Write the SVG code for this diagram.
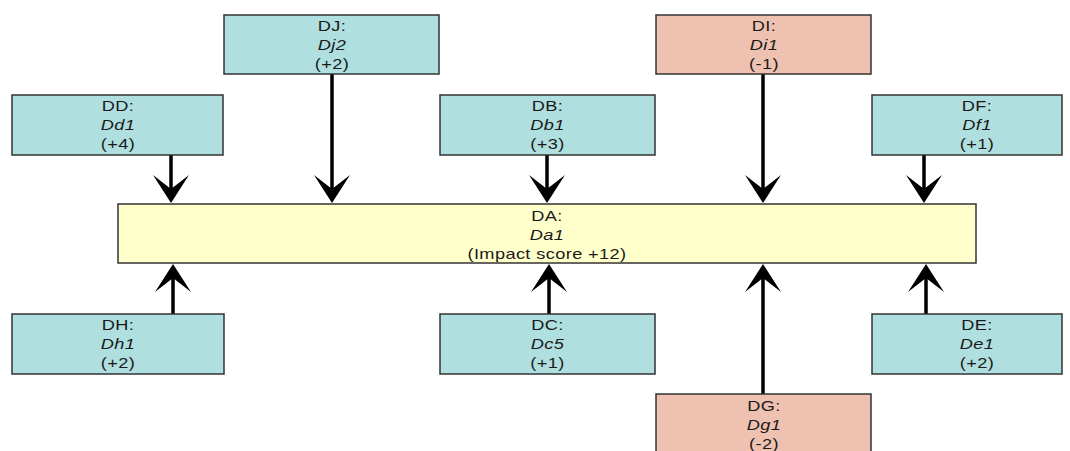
<svg xmlns="http://www.w3.org/2000/svg" width="1070" height="451" viewBox="0 0 1070 451">
<defs>
<style>
.box{stroke:#333;stroke-width:1.5}
.teal{fill:#b0dfdf}
.red{fill:#efc1b1}
.yel{fill:#ffffcc}
text{font-family:"Liberation Sans",Arial,sans-serif;font-size:14px;fill:#1a1a1a;text-anchor:middle;letter-spacing:0.3px}
.it{font-style:italic}
.conn line{stroke:#000;stroke-width:3.5;marker-end:url(#ah)}
</style>
<marker id="ah" viewBox="-20 -20 32 40" markerWidth="32" markerHeight="40" refX="0" refY="0" markerUnits="userSpaceOnUse" orient="auto">
<path d="M10,0 L-18,-18 L-4,0 L-18,18 Z" fill="#000"/>
</marker>
</defs>
<rect width="1070" height="451" fill="#fff"/>

<g class="conn" id="connectors">
<line x1="171" y1="155" x2="171" y2="193"/>
<line x1="332" y1="74" x2="332" y2="193"/>
<line x1="547" y1="155" x2="547" y2="193"/>
<line x1="763" y1="74" x2="763" y2="193"/>
<line x1="924" y1="155" x2="924" y2="193"/>
<line x1="173" y1="314" x2="173" y2="274"/>
<line x1="549" y1="314" x2="549" y2="274"/>
<line x1="763" y1="394" x2="763" y2="274"/>
<line x1="926" y1="314" x2="926" y2="274"/>
</g>

<g id="DJ"><rect class="box teal" x="224" y="15" width="215" height="59"/>
<g transform="translate(332,0) scale(1.3,1)"><text y="31">DJ:</text><text class="it" y="50">Dj2</text><text y="69">(+2)</text></g></g>

<g id="DI"><rect class="box red" x="656" y="15" width="215" height="59"/>
<g transform="translate(764,0) scale(1.3,1)"><text y="31">DI:</text><text class="it" y="50">Di1</text><text y="69">(-1)</text></g></g>

<g id="DD"><rect class="box teal" x="12" y="95" width="211" height="60"/>
<g transform="translate(118,0) scale(1.3,1)"><text y="111">DD:</text><text class="it" y="130">Dd1</text><text y="149">(+4)</text></g></g>

<g id="DB"><rect class="box teal" x="440" y="95" width="215" height="60"/>
<g transform="translate(547.5,0) scale(1.3,1)"><text y="111">DB:</text><text class="it" y="130">Db1</text><text y="149">(+3)</text></g></g>

<g id="DF"><rect class="box teal" x="872" y="95" width="190" height="60"/>
<g transform="translate(977,0) scale(1.3,1)"><text y="111">DF:</text><text class="it" y="130">Df1</text><text y="149">(+1)</text></g></g>

<g id="DA"><rect class="box yel" x="118" y="204" width="858" height="59"/>
<g transform="translate(547,0) scale(1.3,1)"><text y="221">DA:</text><text class="it" y="240">Da1</text><text y="259">(Impact score +12)</text></g></g>

<g id="DH"><rect class="box teal" x="12" y="314" width="212" height="60"/>
<g transform="translate(118,0) scale(1.3,1)"><text y="330">DH:</text><text class="it" y="349">Dh1</text><text y="368">(+2)</text></g></g>

<g id="DC"><rect class="box teal" x="440" y="314" width="215" height="60"/>
<g transform="translate(547.5,0) scale(1.3,1)"><text y="330">DC:</text><text class="it" y="349">Dc5</text><text y="368">(+1)</text></g></g>

<g id="DE"><rect class="box teal" x="872" y="314" width="190" height="60"/>
<g transform="translate(977,0) scale(1.3,1)"><text y="330">DE:</text><text class="it" y="349">De1</text><text y="368">(+2)</text></g></g>

<g id="DG"><rect class="box red" x="656" y="394" width="215" height="70"/>
<g transform="translate(764,0) scale(1.3,1)"><text y="411">DG:</text><text class="it" y="430">Dg1</text><text y="449">(-2)</text></g></g>
</svg>
